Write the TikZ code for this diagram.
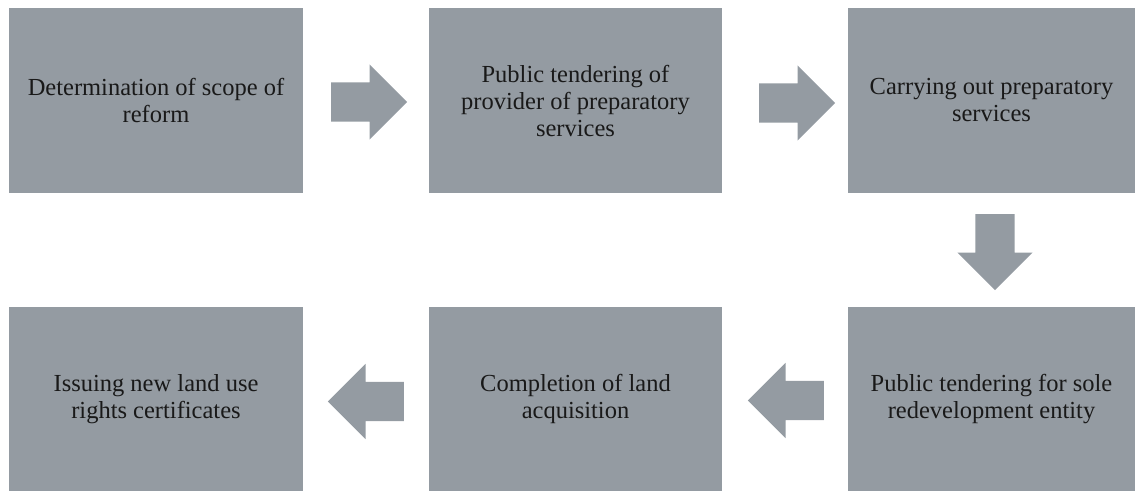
\documentclass[tikz,border=0pt]{standalone}
\usepackage{fontspec}
\setmainfont{Liberation Serif}
\usetikzlibrary{shapes.arrows}

\definecolor{boxgray}{RGB}{148,155,162}

\begin{document}
\begin{tikzpicture}[x=1pt, y=-1pt]

% Styles
\tikzset{
  stage/.style={fill=boxgray, draw=none, align=center, inner sep=0pt,
    font=\fontsize{24.5}{27}\selectfont, text=black!90},
  toprow/.style={stage, minimum height=185pt},
  botrow/.style={stage, minimum height=184pt},
  blockarrow/.style={single arrow, fill=boxgray, draw=none, inner sep=0pt,
    minimum height=76pt, minimum width=75pt, text height=39pt, text width=39pt,
    single arrow head extend=18pt, single arrow tip angle=90, anchor=tail},
  goleft/.style={blockarrow, shape border rotate=180},
  godown/.style={blockarrow, shape border rotate=270}
}

\useasboundingbox (0,0) rectangle (1135,491);

% Top row
\node[toprow, minimum width=294pt] (scope) at (156,100.5)
  {Determination of scope of\\reform};
\node[toprow, minimum width=293pt] (tender) at (575.5,100.5)
  {Public tendering of\\provider of preparatory\\services};
\node[toprow, minimum width=287pt] (prep) at (991.5,100.5)
  {Carrying out preparatory\\services};

% Bottom row
\node[botrow, minimum width=294pt] (certs) at (156,399)
  {Issuing new land use\\rights certificates};
\node[botrow, minimum width=293pt] (acq) at (575.5,399)
  {Completion of land\\acquisition};
\node[botrow, minimum width=287pt] (sole) at (991.5,399)
  {Public tendering for sole\\redevelopment entity};

% Block arrows (placed by their tails)
\node[blockarrow] (scope-tender) at (331,102) {};
\node[blockarrow] (tender-prep) at (759,103) {};
\node[godown] (prep-sole) at (995,214) {};
\node[goleft] (sole-acq) at (824,400.5) {};
\node[goleft] (acq-certs) at (404,401.5) {};

\end{tikzpicture}
\end{document}
